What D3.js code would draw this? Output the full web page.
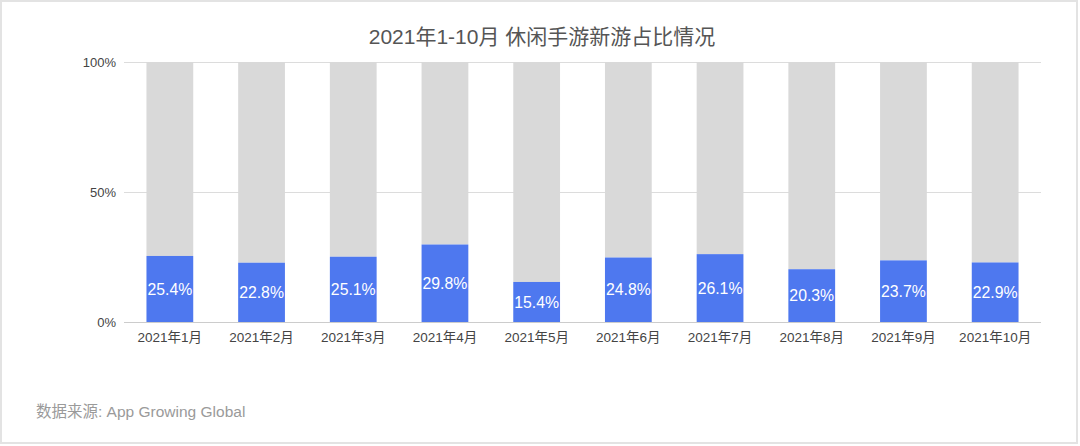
<!DOCTYPE html>
<html><head><meta charset="utf-8">
<script src="https://cdn.jsdelivr.net/npm/d3@7"></script>
<style>html,body{margin:0;padding:0;background:#fff;}svg{display:block;}</style>
</head><body>
<svg id="c" width="1080" height="446"></svg>
<script>
const categories = ["2021年1月","2021年2月","2021年3月","2021年4月","2021年5月","2021年6月","2021年7月","2021年8月","2021年9月","2021年10月"];
const newGameShare = [25.4,22.8,25.1,29.8,15.4,24.8,26.1,20.3,23.7,22.9];
const totalShare = [100,100,100,100,100,100,100,100,100,100];
const yTicks = [0,50,100];
const titleText = "2021年1-10月 休闲手游新游占比情况";
const sourceText = "数据来源: App Growing Global";

(function(){
const font = "'Helvetica Neue', Arial, 'Noto Sans CJK SC', sans-serif";
const svg = d3.select("#c");
svg.append("rect").attr("x",1).attr("y",1).attr("width",1076).attr("height",442)
  .attr("fill","#fff").attr("stroke","#e3e3e3").attr("stroke-width",2);

const pl=124,pr=1041,pt=62,pb=322;
const x = d3.scaleBand().domain(categories).range([pl,pr]).paddingInner(0.49).paddingOuter(0.245);
const y = d3.scaleLinear().domain([0,100]).range([pb,pt]);

svg.append("text").attr("x",542).attr("y",44).attr("text-anchor","middle")
  .attr("font-family",font).attr("font-size",21).attr("fill","#555").text(titleText);

svg.append("g").selectAll("line").data(yTicks).join("line")
  .attr("x1",pl).attr("x2",pr).attr("y1",d=>y(d)+0.5).attr("y2",d=>y(d)+0.5)
  .attr("stroke",d=>d===0?"#ccc":"#dcdcdc").attr("stroke-width",1);

const yAxis = d3.axisLeft(y).tickValues(yTicks).tickFormat(d=>d+"%").tickSize(0).tickPadding(8);
const ya = svg.append("g").attr("transform",`translate(${pl},0)`).call(yAxis);
ya.select(".domain").remove();
ya.selectAll("text").attr("font-family",font).attr("font-size",13).attr("fill","#444");

const data = categories.map((c,i)=>({c,v:newGameShare[i],t:totalShare[i]}));
svg.append("g").selectAll("rect").data(data).join("rect")
  .attr("x",d=>x(d.c)).attr("width",x.bandwidth())
  .attr("y",d=>y(d.t)).attr("height",d=>y(d.v)-y(d.t)).attr("fill","#d9d9d9");
svg.append("g").selectAll("rect").data(data).join("rect")
  .attr("x",d=>x(d.c)).attr("width",x.bandwidth())
  .attr("y",d=>y(d.v)).attr("height",d=>y(0)-y(d.v)).attr("fill","#4e78ef");
svg.append("g").selectAll("text").data(data).join("text")
  .attr("x",d=>x(d.c)+x.bandwidth()/2).attr("y",d=>(y(d.v)+y(0))/2)
  .attr("dy","0.36em").attr("text-anchor","middle")
  .attr("font-family",font).attr("font-size",15.8).attr("fill","#fff")
  .text(d=>d.v.toFixed(1)+"%");

const xAxis = d3.axisBottom(x).tickSize(0).tickPadding(10);
const xa = svg.append("g").attr("transform",`translate(0,${pb})`).call(xAxis);
xa.select(".domain").remove();
xa.selectAll("text").attr("font-family",font).attr("font-size",13.5).attr("fill","#444");

svg.append("text").attr("x",36).attr("y",417).attr("font-family",font).attr("font-size",15.5)
  .attr("fill","#9a9a9a").text(sourceText);
})();
</script>
</body></html>
